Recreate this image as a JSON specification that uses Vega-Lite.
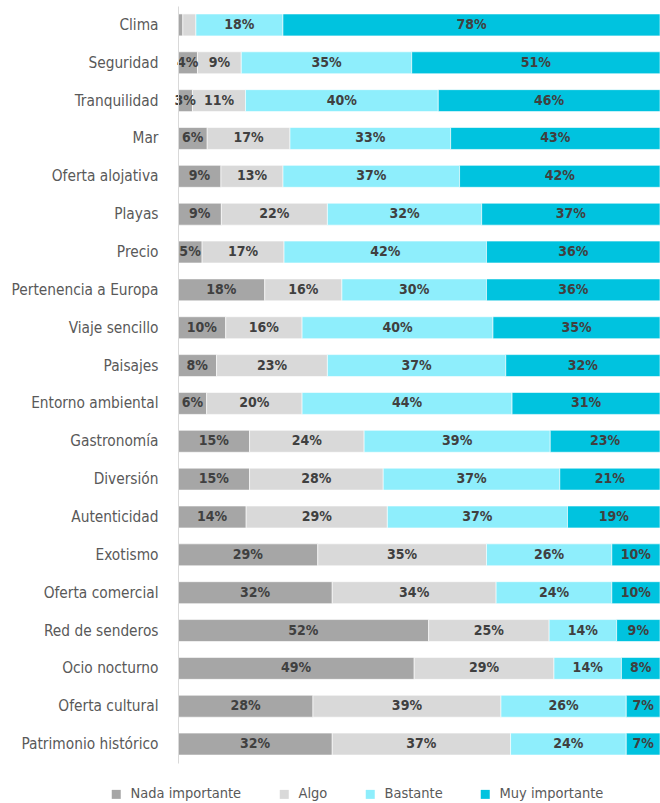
{
  "$schema": "https://vega.github.io/schema/vega-lite/v6.json",
  "autosize": {"type": "none"},
  "width": 482,
  "height": 757,
  "padding": {"left": 178, "top": 6, "right": 0, "bottom": 40},
  "background": "white",
  "config": {"view": {"stroke": null}},
  "data": {
    "values": [
      {"cat": "Clima", "Nada importante": 1, "Algo": 2.7, "Bastante": 18, "Muy importante": 78},
      {"cat": "Seguridad", "Nada importante": 4, "Algo": 9, "Bastante": 35, "Muy importante": 51},
      {"cat": "Tranquilidad", "Nada importante": 3, "Algo": 11, "Bastante": 40, "Muy importante": 46},
      {"cat": "Mar", "Nada importante": 6, "Algo": 17, "Bastante": 33, "Muy importante": 43},
      {"cat": "Oferta alojativa", "Nada importante": 9, "Algo": 13, "Bastante": 37, "Muy importante": 42},
      {"cat": "Playas", "Nada importante": 9, "Algo": 22, "Bastante": 32, "Muy importante": 37},
      {"cat": "Precio", "Nada importante": 5, "Algo": 17, "Bastante": 42, "Muy importante": 36},
      {"cat": "Pertenencia a Europa", "Nada importante": 18, "Algo": 16, "Bastante": 30, "Muy importante": 36},
      {"cat": "Viaje sencillo", "Nada importante": 10, "Algo": 16, "Bastante": 40, "Muy importante": 35},
      {"cat": "Paisajes", "Nada importante": 8, "Algo": 23, "Bastante": 37, "Muy importante": 32},
      {"cat": "Entorno ambiental", "Nada importante": 6, "Algo": 20, "Bastante": 44, "Muy importante": 31},
      {"cat": "Gastronomía", "Nada importante": 15, "Algo": 24, "Bastante": 39, "Muy importante": 23},
      {"cat": "Diversión", "Nada importante": 15, "Algo": 28, "Bastante": 37, "Muy importante": 21},
      {"cat": "Autenticidad", "Nada importante": 14, "Algo": 29, "Bastante": 37, "Muy importante": 19},
      {"cat": "Exotismo", "Nada importante": 29, "Algo": 35, "Bastante": 26, "Muy importante": 10},
      {"cat": "Oferta comercial", "Nada importante": 32, "Algo": 34, "Bastante": 24, "Muy importante": 10},
      {"cat": "Red de senderos", "Nada importante": 52, "Algo": 25, "Bastante": 14, "Muy importante": 9},
      {"cat": "Ocio nocturno", "Nada importante": 49, "Algo": 29, "Bastante": 14, "Muy importante": 8},
      {"cat": "Oferta cultural", "Nada importante": 28, "Algo": 39, "Bastante": 26, "Muy importante": 7},
      {"cat": "Patrimonio histórico", "Nada importante": 32, "Algo": 37, "Bastante": 24, "Muy importante": 7}
    ]
  },
  "transform": [
    {"fold": ["Nada importante", "Algo", "Bastante", "Muy importante"], "as": ["nivel", "value"]},
    {"lookup": "nivel", "from": {"data": {"values": [
      {"nivel": "Nada importante", "ord": 1},
      {"nivel": "Algo", "ord": 2},
      {"nivel": "Bastante", "ord": 3},
      {"nivel": "Muy importante", "ord": 4}
    ]}, "key": "nivel", "fields": ["ord"]}},
    {"stack": "value", "groupby": ["cat"], "sort": [{"field": "ord", "order": "ascending"}], "as": ["x0", "x1"], "offset": "normalize"},
    {"calculate": "(datum.x0 + datum.x1) / 2", "as": "xmid"},
    {"calculate": "datum.value + '%'", "as": "label"}
  ],
  "encoding": {
    "y": {
      "field": "cat",
      "type": "nominal",
      "sort": null,
      "scale": {"paddingInner": 0.42, "paddingOuter": 0.21},
      "axis": {
        "title": null,
        "ticks": false,
        "domainColor": "#d9d9d9",
        "domainWidth": 1,
        "labelFont": "DejaVu Sans Condensed",
        "labelFontSize": 15.3,
        "labelColor": "#595959",
        "labelPadding": 20,
        "labelLimit": 200
      }
    }
  },
  "layer": [
    {
      "mark": {"type": "rect", "stroke": "white", "strokeWidth": 0.6},
      "encoding": {
        "x": {"field": "x0", "type": "quantitative", "scale": {"domain": [0, 1], "nice": false}, "axis": null},
        "x2": {"field": "x1"},
        "color": {
          "field": "nivel",
          "type": "nominal",
          "sort": ["Nada importante", "Algo", "Bastante", "Muy importante"],
          "scale": {
            "domain": ["Nada importante", "Algo", "Bastante", "Muy importante"],
            "range": ["#a6a6a6", "#d9d9d9", "#8eeefc", "#00c3df"]
          },
          "legend": {
            "title": null,
            "orient": "none",
            "direction": "horizontal",
            "legendX": -69,
            "legendY": 781,
            "symbolType": "square",
            "symbolSize": 81,
            "symbolStrokeWidth": 0,
            "labelFont": "DejaVu Sans Condensed",
            "labelFontSize": 14.5,
            "labelColor": "#595959",
            "labelOffset": 7,
            "columnPadding": 35,
            "labelLimit": 300
          }
        }
      }
    },
    {
      "transform": [{"filter": "datum.value >= 3"}],
      "mark": {
        "type": "text",
        "font": "DejaVu Sans Condensed",
        "fontWeight": "bold",
        "fontSize": 14,
        "color": "#404040",
        "align": "center",
        "baseline": "middle"
      },
      "encoding": {
        "x": {"field": "xmid", "type": "quantitative"},
        "text": {"field": "label", "type": "nominal"}
      }
    }
  ]
}
